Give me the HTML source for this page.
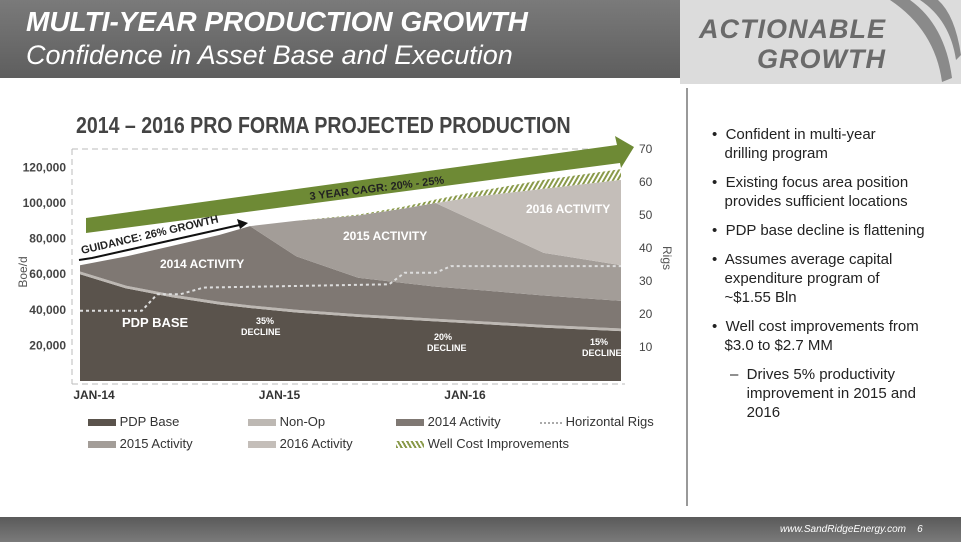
<!DOCTYPE html>
<html><head><meta charset="utf-8"><style>
body{margin:0;width:961px;height:542px;overflow:hidden;background:#fff;font-family:"Liberation Sans",sans-serif;position:relative}
.abs{position:absolute}
ul{margin:0;padding:0;list-style:none}
li{position:relative;padding-left:0;margin-bottom:10px;font-size:15px;line-height:19px;color:#222}
</style></head><body>
<div class="abs" style="left:0;top:0;width:690px;height:78px;background:linear-gradient(#7a7a7a,#5e5e5e)"></div>
<div class="abs" style="left:26px;top:6px;color:#fff;font-style:italic;font-weight:bold;font-size:28px">MULTI-YEAR PRODUCTION GROWTH</div>
<div class="abs" style="left:26px;top:40px;color:#fff;font-style:italic;font-size:27px">Confidence in Asset Base and Execution</div>
<div class="abs" style="left:680px;top:0;width:281px;height:84px;background:#dcdcdc"></div>
<svg class="abs" style="left:880px;top:0" width="81" height="84"><path d="M10 0 Q55 30 62 82 L72 78 Q65 25 30 0Z M40 0 Q70 20 76 60 L81 55 Q75 15 58 0Z" fill="#8a8a8a"/></svg>
<div class="abs" style="left:690px;top:14px;width:196px;text-align:right;color:#6a6a6a;font-style:italic;font-weight:bold;font-size:27px;line-height:30px;letter-spacing:1px">ACTIONABLE<br>GROWTH</div>
<div class="abs" style="left:686px;top:88px;width:2px;height:418px;background:#999"></div>
<div class="abs" style="left:712px;top:125px;width:240px"><ul>
<li>•&nbsp; Confident in multi-year<br>&nbsp;&nbsp;&nbsp;drilling program</li>
<li>•&nbsp; Existing focus area position<br>&nbsp;&nbsp;&nbsp;provides sufficient locations</li>
<li>•&nbsp; PDP base decline is flattening</li>
<li>•&nbsp; Assumes average capital<br>&nbsp;&nbsp;&nbsp;expenditure program of<br>&nbsp;&nbsp;&nbsp;~$1.55 Bln</li>
<li>•&nbsp; Well cost improvements from<br>&nbsp;&nbsp;&nbsp;$3.0 to $2.7 MM</li>
<li style="padding-left:18px">–&nbsp; Drives 5% productivity<br>&nbsp;&nbsp;&nbsp;&nbsp;improvement in 2015 and<br>&nbsp;&nbsp;&nbsp;&nbsp;2016</li>
</ul></div>
<div class="abs" style="left:0;top:517px;width:961px;height:25px;background:linear-gradient(#5a5a5a,#7a7a7a)"></div>
<div class="abs" style="left:780px;top:524px;color:#fff;font-size:10px;font-style:italic">www.SandRidgeEnergy.com &nbsp;&nbsp; 6</div>
<div class="abs" style="left:76px;top:112px;color:#444;font-weight:bold;font-size:23px;transform:scaleX(0.85);transform-origin:left">2014 – 2016 PRO FORMA PROJECTED PRODUCTION</div>

<svg id="chart" class="abs" style="left:0;top:0" width="680" height="410"></svg>

<div class="abs" style="left:88px;top:412px;font-size:13px;color:#333;width:600px;height:40px">
<div class="abs" style="left:0;top:2px"><span style="display:inline-block;width:28px;height:7px;background:#5a534c"></span> PDP Base</div>
<div class="abs" style="left:160px;top:2px"><span style="display:inline-block;width:28px;height:7px;background:#bdb8b3"></span> Non-Op</div>
<div class="abs" style="left:308px;top:2px"><span style="display:inline-block;width:28px;height:7px;background:#7f7873"></span> 2014 Activity</div>
<div class="abs" style="left:452px;top:2px"><span style="display:inline-block;width:22px;border-top:2px dotted #aaa;vertical-align:middle"></span> Horizontal Rigs</div>
<div class="abs" style="left:0;top:24px"><span style="display:inline-block;width:28px;height:7px;background:#a39d98"></span> 2015 Activity</div>
<div class="abs" style="left:160px;top:24px"><span style="display:inline-block;width:28px;height:7px;background:#c4beb9"></span> 2016 Activity</div>
<div class="abs" style="left:308px;top:24px"><span style="display:inline-block;width:28px;height:7px;background:repeating-linear-gradient(60deg,#8a9a4a 0 2px,#fff 2px 4px)"></span> Well Cost Improvements</div>
</div>

<script>
const months=[0,3,6,9,11,14,18,21,23,26,30,35];
const pdp=[60,52,47,43,41,38.5,36,34.5,33.5,32,30,28];
const nonop=[1.5,1.5,1.5,1.5,1.5,1.5,1.5,1.5,1.5,1.5,1.5,1.5];
const act2014=[3.5,16.5,27.5,37.5,44.5,30,20.5,19,18,17.5,16.5,15.5];
const act2015=[0,0,0,0,0,20,35,42,47,37,24,20];
const act2016=[0,0,0,0,0,0,0,0,0,16,36,48];
const wellcost=[0,0,0,0,0,0,0.5,1,2,3,5,6];
const rigMonths=[0,4,5,6.5,8,14,20,21,23,24,35];
const rigs=[21,21,26,26,28,28.5,29,32.5,32.5,34.5,34.5];
const yTicks=[20,40,60,80,100,120];
const rTicks=[10,20,30,40,50,60,70];
const xTicks=[0,12,24];const xLabels=["JAN-14","JAN-15","JAN-16"];

const NS="http://www.w3.org/2000/svg";const svg=document.getElementById('chart');
const X=m=>80+m*(541/35);const Y=v=>381-v*1.78;const R=v=>380-v*3.3;
function mk(t,a,p){const e=document.createElementNS(NS,t);for(const k in a)e.setAttribute(k,a[k]);(p||svg).appendChild(e);return e;}
const defs=mk('defs',{});const pat=mk('pattern',{id:'hatch',width:4,height:4,patternUnits:'userSpaceOnUse',patternTransform:'rotate(30)'},defs);
mk('rect',{width:4,height:4,fill:'#fff'},pat);mk('rect',{width:2,height:4,fill:'#8a9a4a'},pat);
let g;
g=mk('line',{x1:72,y1:149,x2:625,y2:149,stroke:'#bbb','stroke-dasharray':'6 4'});
g=mk('line',{x1:72,y1:384,x2:625,y2:384,stroke:'#bbb','stroke-dasharray':'6 4'});
g=mk('line',{x1:72,y1:149,x2:72,y2:384,stroke:'#bbb','stroke-dasharray':'6 4'});
const layers=[[pdp,'#5a534c','area-pdp-base'],[nonop,'#bdb8b3','area-non-op'],[act2014,'#7f7873','area-2014-activity'],[act2015,'#a39d98','area-2015-activity'],[act2016,'#c4beb9','area-2016-activity'],[wellcost,'url(#hatch)','area-well-cost']];
let base=months.map(()=>0);
layers.forEach(([arr,col,name])=>{
  const top=base.map((b,i)=>b+arr[i]);
  let d='M'+months.map((m,i)=>X(m)+','+Y(top[i])).join(' L');
  for(let i=months.length-1;i>=0;i--)d+=' L'+X(months[i])+','+Y(base[i]);
  const p=mk('path',{d:d+'Z',fill:col});
  
  
  base=top;
});
const rl=mk('polyline',{points:rigMonths.map((m,i)=>X(m)+','+R(rigs[i])).join(' '),fill:'none',stroke:'#ddd','stroke-width':2,'stroke-dasharray':'3 3'});


yTicks.forEach(v=>{const t=mk('text',{x:66,y:Y(v)+4,'text-anchor':'end','font-size':12,fill:'#444','font-weight':'bold'});t.textContent=(v*1000).toLocaleString('en-US');

});
rTicks.forEach(v=>{const t=mk('text',{x:639,y:R(v)+4,'font-size':12,fill:'#444'});t.textContent=v;

});
xTicks.forEach((m,i)=>{const t=mk('text',{x:X(m)+14,y:399,'text-anchor':'middle','font-size':12,'font-weight':'bold',fill:'#333'});t.textContent=xLabels[i];

});
let t;
t=mk('text',{x:0,y:0,'font-size':12,fill:'#555',transform:'translate(27,272) rotate(-90)','text-anchor':'middle'});t.textContent='Boe/d';
t=mk('text',{x:0,y:0,'font-size':12,fill:'#555',transform:'translate(663,258) rotate(90)','text-anchor':'middle'});t.textContent='Rigs';
g=mk('polygon',{points:'86,218 86,233 620,163 621,168 634,147 615,136 617,145',fill:'#6e8a35'});
g=mk('polyline',{points:'79,260 92,258 244,224',fill:'none',stroke:'#111','stroke-width':2});
g=mk('polygon',{points:'248,223 237,219 240,229',fill:'#111'});
const labels=[['3 YEAR CAGR: 20% - 25%',310,200,-7,11,'#222','cagr-label'],['GUIDANCE: 26% GROWTH',82,254,-13,11,'#222','guidance-label'],['2014 ACTIVITY',160,268,0,12,'#fff','label-2014'],['2015 ACTIVITY',343,240,0,12,'#fff','label-2015'],['2016 ACTIVITY',526,213,0,12,'#fff','label-2016'],['PDP BASE',122,327,0,13,'#fff','label-pdp'],['35%',256,324,0,9,'#fff','label-35'],['DECLINE',241,335,0,9,'#fff','label-decline-1'],['20%',434,340,0,9,'#fff','label-20'],['DECLINE',427,351,0,9,'#fff','label-decline-2'],['15%',590,345,0,9,'#fff','label-15'],['DECLINE',582,356,0,9,'#fff','label-decline-3']];
labels.forEach(([s,x,y,r,f,c,n])=>{const e=mk('text',{x:x,y:y,'font-size':f,'font-weight':'bold',fill:c,transform:'rotate('+r+' '+x+' '+y+')'});e.textContent=s;

});
</script>
</body></html>
